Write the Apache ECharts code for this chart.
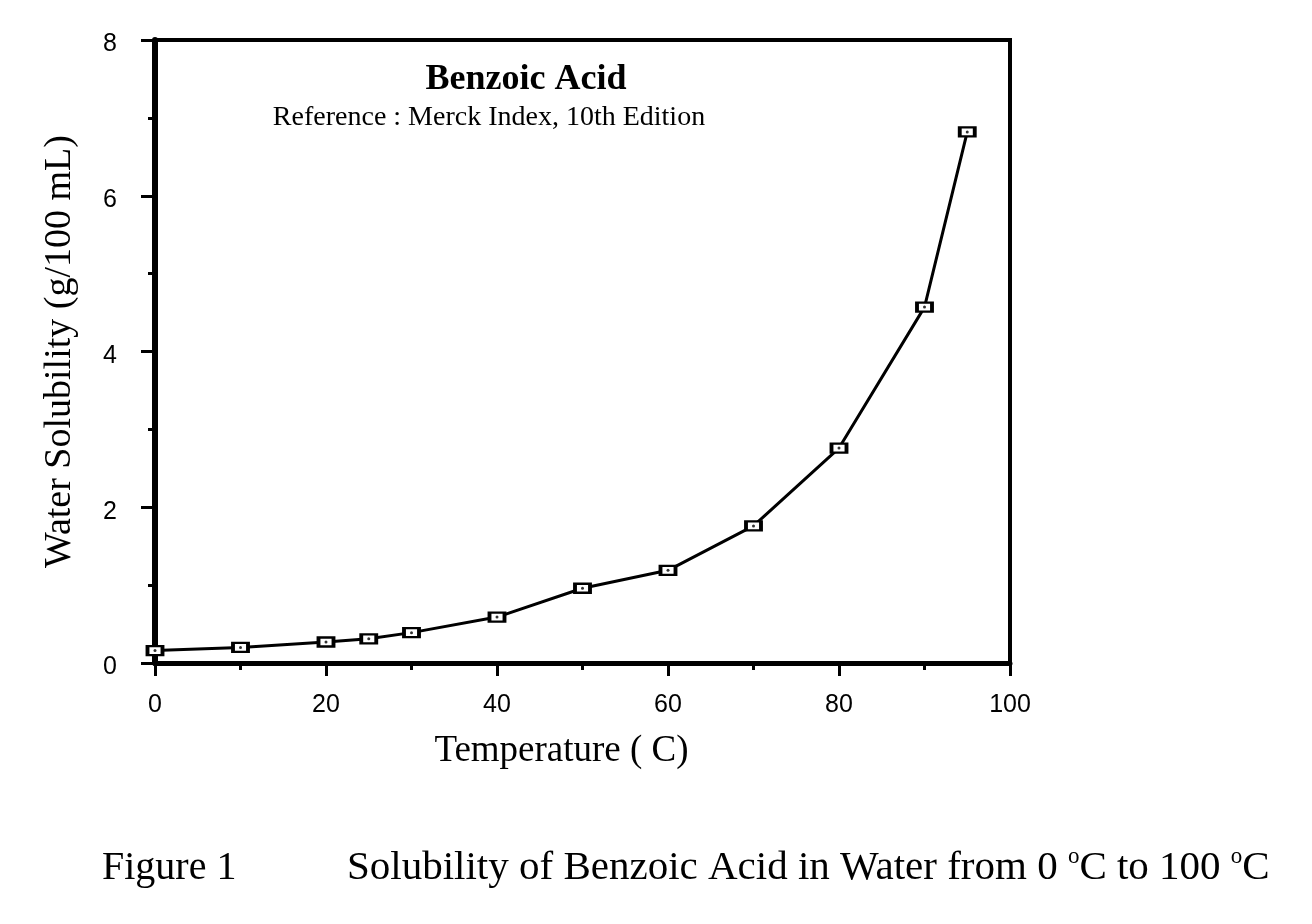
<!DOCTYPE html>
<html>
<head>
<meta charset="utf-8">
<script src="https://cdn.jsdelivr.net/npm/echarts@6/dist/echarts.min.js"></script>
<style>
html,body{margin:0;padding:0;background:#fff;}
#chart{width:1312px;height:924px;}
</style>
</head>
<body>
<div id="chart"></div>
<script>
const temperatures = [0, 10, 20, 25, 30, 40, 50, 60, 70, 80, 90, 95];
const solubility = [0.16, 0.20, 0.27, 0.31, 0.39, 0.59, 0.96, 1.19, 1.76, 2.76, 4.57, 6.82];
const xTicks = [0, 20, 40, 60, 80, 100];
const yTicks = [0, 2, 4, 6, 8];
const chartTitle = 'Benzoic Acid';
const chartSubtitle = 'Reference : Merck Index, 10th Edition';
const xName = 'Temperature ( C)';
const yName = 'Water Solubility (g/100 mL)';

const points = temperatures.map((t, i) => [t, solubility[i]]);
const serif = '"Liberation Serif", "Times New Roman", Times, serif';
const sans = '"Liberation Sans", Helvetica, Arial, sans-serif';

const chart = echarts.init(document.getElementById('chart'));
chart.setOption({
  backgroundColor: '#fff',
  animation: false,
  grid: {
    left: 155, right: 302, top: 40, bottom: 261,
    show: true, borderColor: '#000', borderWidth: 4, backgroundColor: 'transparent'
  },
  xAxis: {
    type: 'value', min: xTicks[0], max: xTicks[xTicks.length - 1], interval: 20,
    name: xName, nameLocation: 'middle', nameGap: 70,
    nameTextStyle: { fontFamily: serif, fontSize: 37, color: '#000', padding: [0, 42, 0, 0] },
    axisLine: { show: true, lineStyle: { color: '#000', width: 5 } },
    axisTick: { show: true, length: 13, lineStyle: { color: '#000', width: 3 } },
    minorTick: { show: true, splitNumber: 2, length: 7, lineStyle: { color: '#000', width: 3 } },
    splitLine: { show: false },
    axisLabel: { fontFamily: sans, fontSize: 25, color: '#000', margin: 30 }
  },
  yAxis: {
    type: 'value', min: yTicks[0], max: yTicks[yTicks.length - 1], interval: 2,
    name: yName, nameLocation: 'middle', nameGap: 76, nameRotate: 90,
    nameTextStyle: { fontFamily: serif, fontSize: 38, color: '#000' },
    axisLine: { show: true, lineStyle: { color: '#000', width: 6 } },
    axisTick: { show: true, length: 14, lineStyle: { color: '#000', width: 3 } },
    minorTick: { show: true, splitNumber: 2, length: 7, lineStyle: { color: '#000', width: 3 } },
    splitLine: { show: false },
    axisLabel: { fontFamily: sans, fontSize: 25, color: '#000', margin: 38, verticalAlign: 'top', lineHeight: 25, padding: [-8, 0, 0, 0] }
  },
  graphic: [
    { type: 'text',
      style: { text: chartTitle, x: 526, y: 80, align: 'center', verticalAlign: 'middle',
        font: 'bold 36px ' + serif, fill: '#000' } },
    { type: 'text',
      style: { text: chartSubtitle, x: 489, y: 118, align: 'center', verticalAlign: 'middle',
        font: '28px ' + serif, fill: '#000' } },
    { type: 'text',
      style: { text: 'Figure 1', x: 102, y: 868, align: 'left', verticalAlign: 'middle',
        font: '40px ' + serif, fill: '#000' } },
    { type: 'text',
      style: {
        text: '{a|Solubility of Benzoic Acid in Water from 0 }{s|o}{a|C to 100 }{s|o}{a|C}',
        x: 347, y: 868, align: 'left', verticalAlign: 'middle',
        rich: {
          a: { font: '41px ' + serif, fill: '#000', lineHeight: 46 },
          s: { font: '23px ' + serif, fill: '#000', verticalAlign: 'top', lineHeight: 46, padding: [0, 0, 15, 0] }
        }
      } }
  ],
  series: [
    {
      type: 'line', data: points, symbol: 'rect', symbolSize: [15, 9],
      lineStyle: { color: '#000', width: 3 },
      itemStyle: { color: '#fff', borderColor: '#000', borderWidth: 3 },
      z: 3
    },
    {
      type: 'scatter', data: points, symbol: 'circle', symbolSize: 3,
      itemStyle: { color: '#000' }, z: 4
    }
  ]
});
</script>
</body>
</html>
